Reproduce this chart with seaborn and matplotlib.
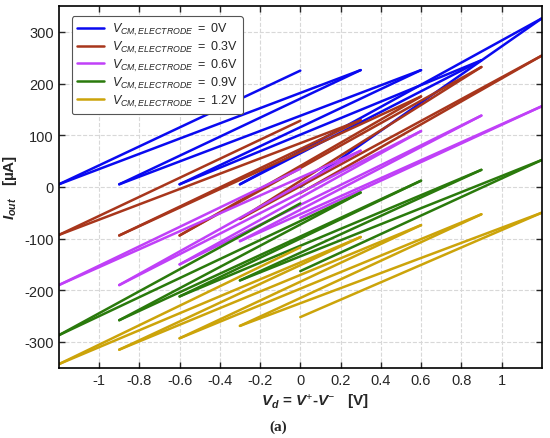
import matplotlib
matplotlib.use('Agg')
import matplotlib.pyplot as plt
import seaborn as sns
import pandas as pd

# sweep ranges on the V_d axis
x_start = [-1.2, -0.9, -0.6, -0.3, 0.0]
x_end = [0.0, 0.3, 0.6, 0.9, 1.2]

vcm_labels = ['0V', '0.3V', '0.6V', '0.9V', '1.2V']
# I_out at sweep start / sweep end (uA)
i_start = {
    '0V':   [5, 5, 5, 5, 0],
    '0.3V': [-93, -94, -94, -62, -12],
    '0.6V': [-190, -190, -150, -105, -60],
    '0.9V': [-287, -258, -212, -181, -163],
    '1.2V': [-343, -315, -293, -269, -252],
}
i_end = {
    '0V':   [225, 226, 226, 245, 326],
    '0.3V': [128, 129, 175, 232, 254],
    '0.6V': [35, 70, 108, 138, 156],
    '0.9V': [-32, -11, 12, 33, 52],
    '1.2V': [-117, -97, -74, -53, -50],
}
colors = ['#0A0AF0', '#A8361C', '#C040F8', '#2A7A0C', '#CCA40A']

# build long table: each segment goes from a start point to the matching end point,
# plus the shallower return trace that ends one range further right
rows = []
seg = 0
for lab in vcm_labels:
    name = r'$V_{CM,ELECTRODE}$ $=$ ' + lab
    for k in range(5):
        rows.append((name, seg, x_start[k], i_start[lab][k]))
        rows.append((name, seg, x_end[k], i_end[lab][k]))
        seg += 1
    for k in range(4):
        rows.append((name, seg, x_start[k], i_start[lab][k]))
        rows.append((name, seg, x_end[k + 1], i_end[lab][k + 1]))
        seg += 1
df = pd.DataFrame(rows, columns=['curve', 'seg', 'vd', 'iout'])

sns.set_style('ticks')
plt.rcParams['font.family'] = ['Liberation Sans', 'DejaVu Sans']
plt.rcParams['axes.unicode_minus'] = False
plt.rcParams['mathtext.fontset'] = 'custom'
plt.rcParams['mathtext.rm'] = 'Liberation Sans'
plt.rcParams['mathtext.it'] = 'Liberation Sans:italic'
plt.rcParams['mathtext.bf'] = 'Liberation Sans:bold'
plt.rcParams['mathtext.bfit'] = 'Liberation Sans:italic:bold'

fig = plt.figure(figsize=(5.5, 4.39), dpi=100)
ax = fig.add_axes([0.107, 0.16, 0.878, 0.824])

palette = {r'$V_{CM,ELECTRODE}$ $=$ ' + l: c for l, c in zip(vcm_labels, colors)}
sns.lineplot(data=df, x='vd', y='iout', hue='curve', units='seg', estimator=None,
             palette=palette, linewidth=1.8, sort=False, ax=ax)

ax.set_xlim(-1.2, 1.2)
ax.set_ylim(-350, 350)
ax.set_xticks([-1, -0.8, -0.6, -0.4, -0.2, 0, 0.2, 0.4, 0.6, 0.8, 1])
ax.set_xticklabels(['-1', '-0.8', '-0.6', '-0.4', '-0.2', '0', '0.2', '0.4', '0.6', '0.8', '1'])
ax.set_yticks([-300, -200, -100, 0, 100, 200, 300])
ax.tick_params(direction='in', top=True, right=True, labelsize=10.5, length=4, width=1)
ax.grid(True, linestyle='--', color='#d8d8d8', linewidth=0.8)
ax.set_axisbelow(True)
for sp in ax.spines.values():
    sp.set_linewidth(1.2)
    sp.set_color('black')

ax.set_xlabel('')
ax.set_ylabel(r'$\mathbfit{I}_{\mathbfit{out}}$   [µA]', fontsize=11, fontweight='bold')
ax.yaxis.set_label_coords(-0.082, 0.5)
fig.text(0.573, 1 - 403 / 439, r'$\mathbfit{V}_{\mathbfit{d}}$ = $\mathbfit{V}^{+}$-$\mathbfit{V}^{-}$   [V]',
         ha='center', va='center', fontsize=11, fontweight='bold')
fig.text(0.505, 1 - 427 / 439, '(a)', ha='center', va='center', fontsize=11,
         family='Liberation Serif', fontweight='bold')

leg = ax.legend(loc='upper left', bbox_to_anchor=(0.027, 0.972), borderaxespad=0,
                fontsize=9, handlelength=2.2, labelspacing=0.15, handletextpad=0.6,
                fancybox=True, framealpha=1, edgecolor='#555555', title=None)
leg.get_frame().set_linewidth(0.8)

fig.savefig('out.png', dpi=100)
